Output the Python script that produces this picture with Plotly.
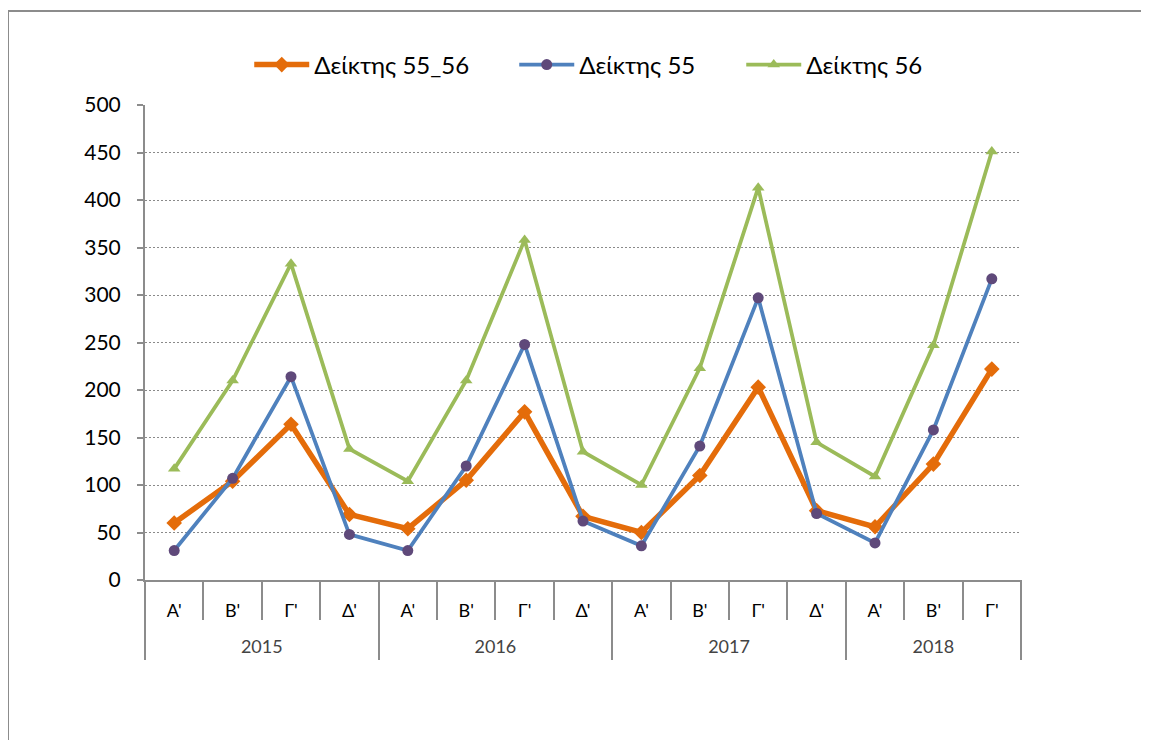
import plotly.graph_objects as go

years = ["2015", "2016", "2017", "2018"]
year_quarters = [4, 4, 4, 3]
quarters = ["Α'", "Β'", "Γ'", "Δ'"] * 3 + ["Α'", "Β'", "Γ'"]

idx_55_56 = [60, 104, 164, 69, 54, 105, 177, 67, 50, 110, 203, 73, 56, 122, 222]
idx_55 = [31, 107, 214, 48, 31, 120, 248, 62, 36, 141, 297, 70, 39, 158, 317]
idx_56 = [117, 210, 333, 138, 104, 210, 358, 135, 100, 223, 413, 145, 109, 247, 451]

FONT = "Lato, 'Liberation Sans', sans-serif"
GRAY = "#8C8C8C"

pos = list(range(len(quarters)))
n = len(quarters)
bounds_all = [i - 0.5 for i in range(n + 1)]
year_bounds = [-0.5]
year_centers = []
acc = 0
for c in year_quarters:
    year_centers.append(acc + (c - 1) / 2)
    acc += c
    year_bounds.append(acc - 0.5)
xr = [-0.5, n - 0.5]

fig = go.Figure()
fig.add_trace(go.Scatter(
    x=pos, y=idx_55_56, name="Δείκτης 55_56", mode="lines+markers", legendwidth=195,
    line=dict(color="#E46C0A", width=5.5),
    marker=dict(symbol="diamond", size=12, color="#E46C0A")))
fig.add_trace(go.Scatter(
    x=pos, y=idx_55, name="Δείκτης 55", mode="lines+markers", legendwidth=157,
    line=dict(color="#4F81BD", width=3.75),
    marker=dict(symbol="circle", size=11, color="#5F497A")))
fig.add_trace(go.Scatter(
    x=pos, y=idx_56, name="Δείκτης 56", mode="lines+markers",
    line=dict(color="#9BBB59", width=3.75),
    marker=dict(symbol="triangle-up", size=11, color="#9BBB59")))
# helper empty traces so the overlay axes are drawn
fig.add_trace(go.Scatter(x=[], y=[], xaxis="x2", showlegend=False, hoverinfo="skip"))
fig.add_trace(go.Scatter(x=[], y=[], xaxis="x3", showlegend=False, hoverinfo="skip"))

fig.update_layout(
    width=1149, height=740,
    margin=dict(l=137, r=136, t=97, b=88),
    paper_bgcolor="white", plot_bgcolor="white",
    font=dict(family=FONT, color="black"),
    showlegend=True,
    legend=dict(orientation="h", xref="container", yref="container",
                x=0.505, xanchor="center", y=0.923, yanchor="middle",
                font=dict(size=24), itemwidth=55),
    yaxis=dict(domain=[80 / 555, 1], range=[0, 500], dtick=50, showgrid=True,
               gridcolor="#8A8A8A", griddash="2px,2px", gridwidth=1,
               showline=True, linecolor=GRAY, linewidth=2,
               ticks="outside", ticklen=6, tickcolor=GRAY, tickwidth=2,
               tickfont=dict(size=21), ticklabelstandoff=12,
               zeroline=False, automargin=False),
    xaxis=dict(range=xr, tickmode="array", tickvals=pos, ticktext=quarters,
               showgrid=False, zeroline=False, showline=True, linecolor=GRAY, linewidth=2,
               ticks="", tickfont=dict(size=18), ticklabelstandoff=13, automargin=False),
    xaxis2=dict(overlaying="x", anchor="free", position=0, range=xr,
                tickmode="array", tickvals=year_centers, ticktext=years,
                ticks="", ticklabelposition="inside", showline=False, showgrid=False,
                zeroline=False, tickfont=dict(size=18), automargin=False,
                minor=dict(tickmode="array", tickvals=year_bounds, ticks="inside",
                           ticklen=80, tickcolor=GRAY, tickwidth=2, showgrid=False)),
    xaxis3=dict(overlaying="x", anchor="free", position=40 / 555, range=xr,
                tickmode="array", tickvals=bounds_all, showticklabels=False,
                ticks="inside", ticklen=40, tickcolor=GRAY, tickwidth=2,
                showline=False, showgrid=False, zeroline=False, automargin=False),
    shapes=[dict(type="rect", xref="paper", yref="paper",
                 x0=-0.1564, x1=1.2, y0=-0.5, y1=1.1694,
                 line=dict(color=GRAY, width=2), fillcolor="rgba(0,0,0,0)", layer="below")],
)

fig.write_html("out.html")
